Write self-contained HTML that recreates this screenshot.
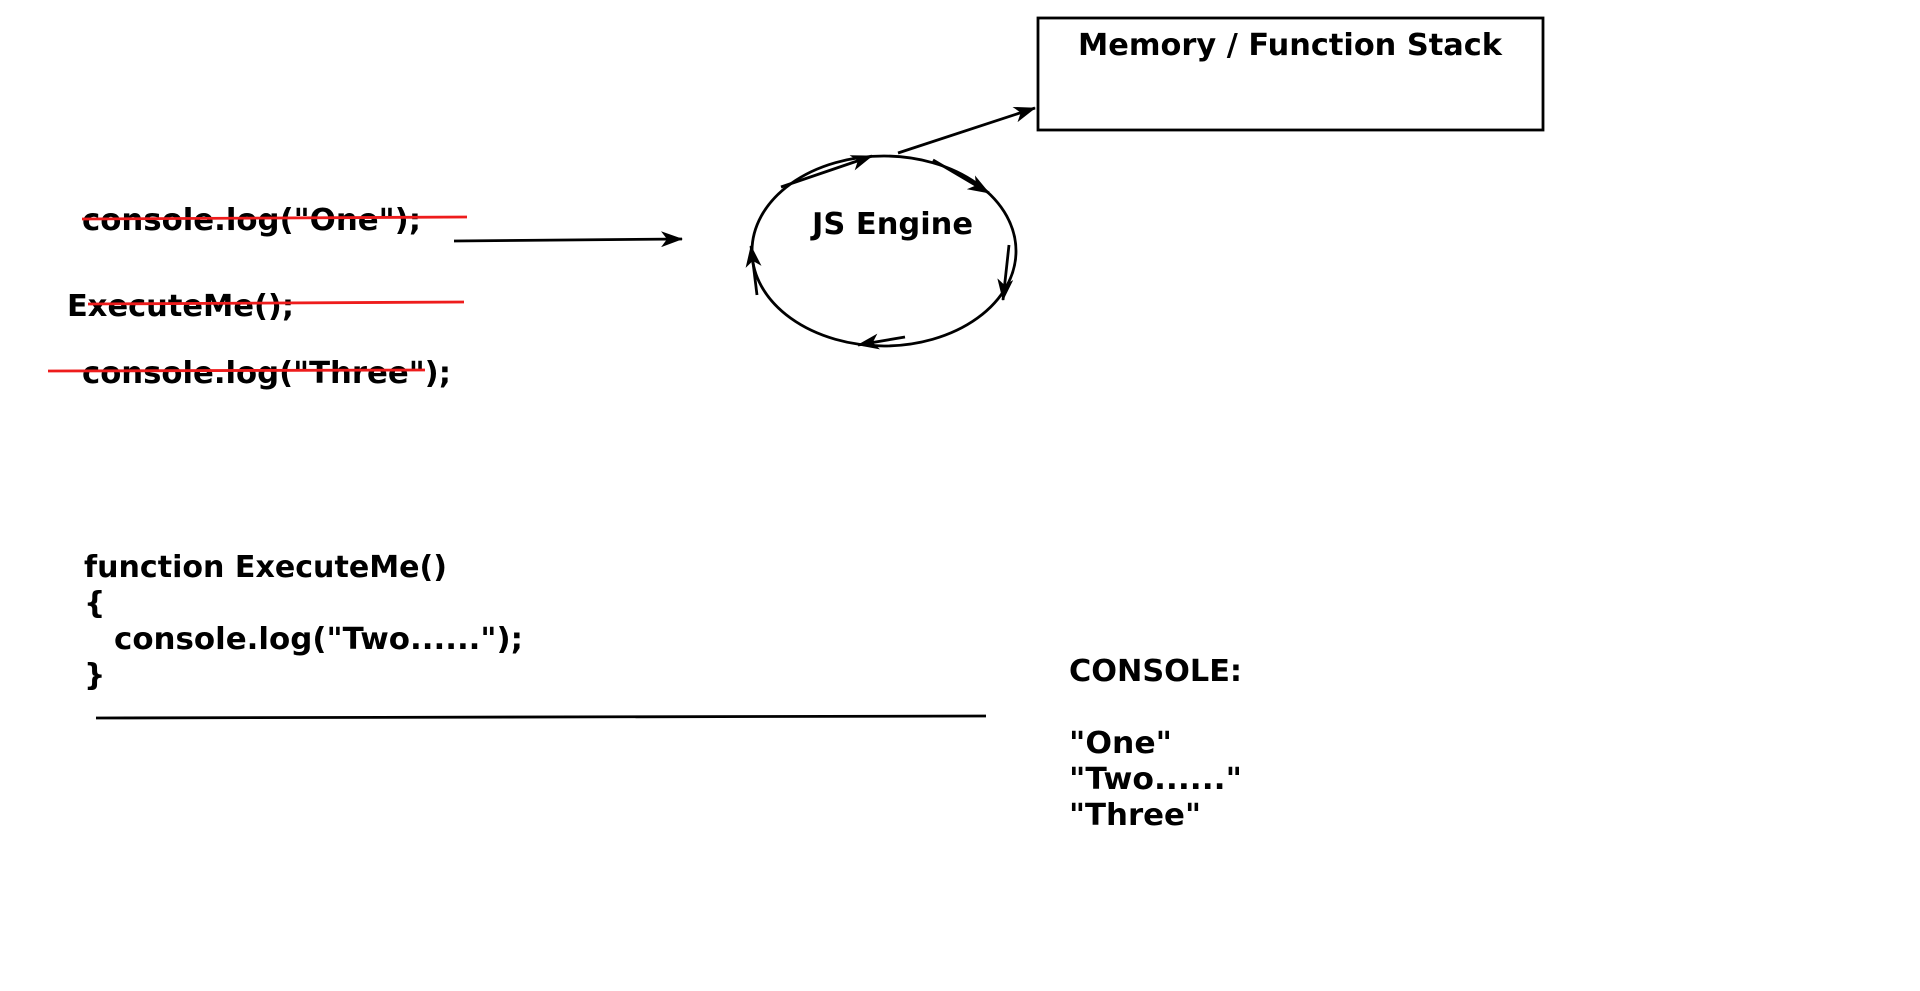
<!DOCTYPE html>
<html><head><meta charset="utf-8"><style>html,body{margin:0;padding:0;background:#fff;}svg{display:block}</style></head>
<body>
<svg width="1920" height="991" viewBox="0 0 1920 991" xmlns="http://www.w3.org/2000/svg" font-family="'DejaVu Sans','Liberation Sans',sans-serif" font-weight="bold" font-size="30" fill="#000">
<defs>
<marker id="b" markerWidth="22" markerHeight="16" refX="21" refY="8" orient="auto" markerUnits="userSpaceOnUse"><path d="M0,0 L22,8 L0,16 L6,8 Z" fill="#000"/></marker>
</defs>
<rect x="1038" y="18" width="505" height="112" fill="none" stroke="#000" stroke-width="2.8"/>
<text x="1078" y="55" textLength="424" lengthAdjust="spacingAndGlyphs">Memory / Function Stack</text>
<ellipse cx="884" cy="251" rx="132" ry="95" fill="none" stroke="#000" stroke-width="2.8"/>
<text x="812" y="234" textLength="161" lengthAdjust="spacingAndGlyphs">JS Engine</text>
<g stroke="#000" stroke-width="2.8" fill="none">
<line x1="898" y1="153" x2="1035" y2="108" marker-end="url(#b)"/>
<line x1="454" y1="241" x2="682" y2="239" marker-end="url(#b)"/>
<line x1="781" y1="187" x2="872" y2="156" marker-end="url(#b)"/>
<line x1="933" y1="160" x2="989" y2="193" marker-end="url(#b)"/>
<line x1="1009" y1="245" x2="1003" y2="300" marker-end="url(#b)"/>
<line x1="905" y1="337" x2="858" y2="345" marker-end="url(#b)"/>
<line x1="757" y1="295" x2="751" y2="246" marker-end="url(#b)"/>
<line x1="96" y1="718" x2="986" y2="716"/>
</g>
<text x="82" y="230" textLength="339" lengthAdjust="spacingAndGlyphs">console.log("One");</text>
<text x="67" y="316" textLength="227" lengthAdjust="spacingAndGlyphs">ExecuteMe();</text>
<text x="82" y="383" textLength="369" lengthAdjust="spacingAndGlyphs">console.log("Three");</text>
<g stroke="#ee1c1c" stroke-width="2.8">
<line x1="82" y1="219" x2="467" y2="217"/>
<line x1="88" y1="304" x2="464" y2="302"/>
<line x1="48" y1="371" x2="425" y2="370"/>
</g>
<text x="84" y="577" textLength="363" lengthAdjust="spacingAndGlyphs">function ExecuteMe()</text>
<text x="84" y="613">{</text>
<text x="114" y="649" textLength="409" lengthAdjust="spacingAndGlyphs">console.log("Two......");</text>
<text x="84" y="685">}</text>
<text x="1069" y="681" textLength="173" lengthAdjust="spacingAndGlyphs">CONSOLE:</text>
<text x="1069" y="753" textLength="103" lengthAdjust="spacingAndGlyphs">"One"</text>
<text x="1069" y="789" textLength="173" lengthAdjust="spacingAndGlyphs">"Two......"</text>
<text x="1069" y="825" textLength="132" lengthAdjust="spacingAndGlyphs">"Three"</text>
</svg>
</body></html>
